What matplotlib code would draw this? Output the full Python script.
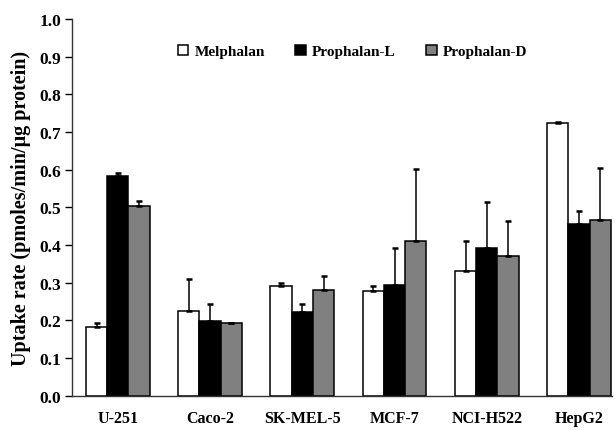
import matplotlib
matplotlib.use("Agg")
import matplotlib.pyplot as plt
import numpy as np

categories = ["U-251", "Caco-2", "SK-MEL-5", "MCF-7", "NCI-H522", "HepG2"]
series_names = ["Melphalan", "Prophalan-L", "Prophalan-D"]
melphalan = [0.183, 0.225, 0.292, 0.277, 0.332, 0.723]
melphalan_err = [0.009, 0.086, 0.008, 0.015, 0.079, 0.004]
prophalan_l = [0.584, 0.199, 0.223, 0.294, 0.392, 0.455]
prophalan_l_err = [0.007, 0.044, 0.020, 0.098, 0.121, 0.034]
prophalan_d = [0.504, 0.193, 0.281, 0.411, 0.371, 0.466]
prophalan_d_err = [0.014, 0.0, 0.036, 0.190, 0.093, 0.138]
yticks = [0.0, 0.1, 0.2, 0.3, 0.4, 0.5, 0.6, 0.7, 0.8, 0.9, 1.0]

plt.rcParams['font.family'] = ['Liberation Serif', 'DejaVu Serif']
plt.rcParams['font.weight'] = 'bold'

fig = plt.figure(figsize=(6.15, 4.31), dpi=100)
ax = fig.add_axes([0.117, 0.0796, 0.878, 0.874])

x = np.arange(len(categories))
w = 0.23
data = [(melphalan, melphalan_err, 'white'),
        (prophalan_l, prophalan_l_err, 'black'),
        (prophalan_d, prophalan_d_err, '#808080')]
for k, (vals, errs, col) in enumerate(data):
    pos = x + (k - 1) * w
    ax.bar(pos, vals, width=w, color=col, edgecolor='black', linewidth=1.1,
           label=series_names[k], zorder=2)
    ax.errorbar(pos, vals, yerr=[np.zeros(len(errs)), errs], fmt='none',
                ecolor='black', elinewidth=1.1, capsize=2.5, capthick=1.8, zorder=3)

ax.set_xlim(-0.497, 5.356)
ax.set_ylim(0, 1.0)
ax.set_yticks(yticks)
ax.set_yticklabels([f"{t:.1f}" for t in yticks], fontsize=12.5, fontweight='bold')
ax.set_xticks(x)
ax.set_xticklabels(categories, fontsize=11.5, fontweight='bold')
ax.tick_params(axis='x', length=0, pad=10)
ax.tick_params(axis='y', length=5, width=1, direction='out', pad=3)
for s in ['top', 'right']:
    ax.spines[s].set_visible(False)
for s in ['left', 'bottom']:
    ax.spines[s].set_linewidth(1.0)
    ax.spines[s].set_color('#333333')

ax.set_ylabel("Uptake rate (pmoles/min/\u03bcg protein)", fontsize=14.5,
              fontweight='bold', labelpad=6)

leg = ax.legend(loc='center', bbox_to_anchor=(0.52, 0.914), ncol=3,
                frameon=False, fontsize=11, handlelength=0.7, handleheight=0.7,
                handletextpad=0.4, columnspacing=2.0, borderaxespad=0)
for t in leg.get_texts():
    t.set_fontweight('bold')

fig.savefig("out.png", dpi=100)
